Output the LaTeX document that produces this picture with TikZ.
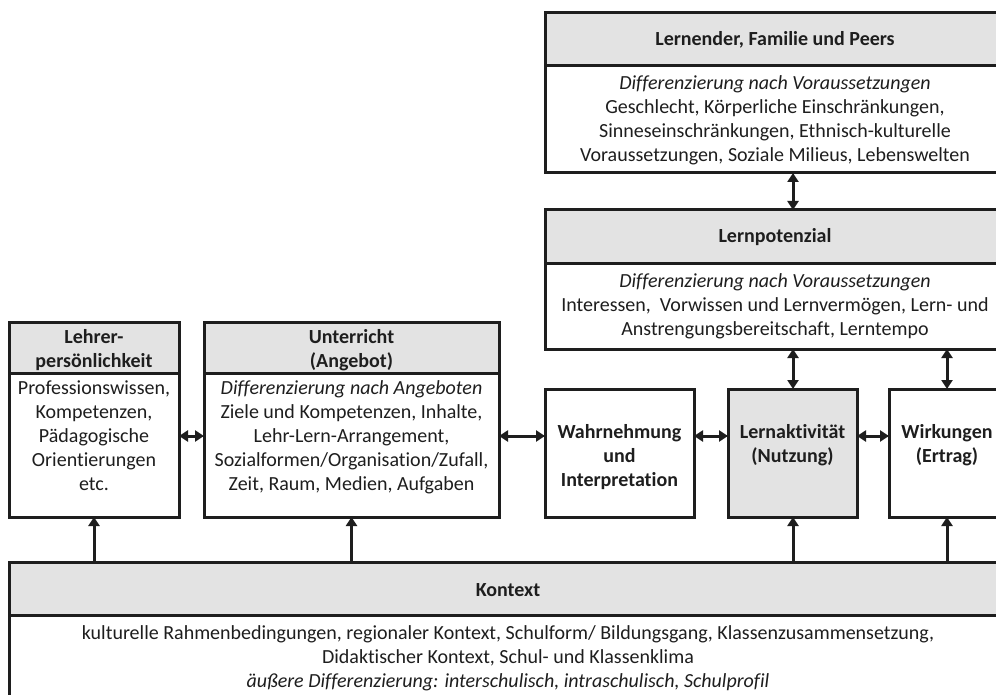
\documentclass[tikz,border=0pt]{standalone}
\usepackage{fontspec}
\setmainfont[Ligatures=NoCommon]{Carlito}
\usetikzlibrary{arrows.meta}
\definecolor{hdr}{HTML}{E3E3E3}
\definecolor{ink}{HTML}{1E1E1E}
\tikzset{
  box/.style={draw=ink, line width=3pt, rectangle, inner sep=0pt, outer sep=0pt, anchor=north west},
  hbox/.style={box, fill=hdr},
  txt/.style={text=ink, align=center, inner sep=0pt, font=\fontsize{20}{24}\selectfont},
  btxt/.style={txt, font=\fontsize{20}{24}\selectfont\bfseries},
  conn/.style={draw=ink, line width=3pt},
  both/.style={conn, {Triangle[length=9pt,width=11pt]}-{Triangle[length=9pt,width=11pt]}},
  up/.style={conn, -{Triangle[length=9pt,width=11pt]}}
}
\begin{document}
\begin{tikzpicture}[x=1pt,y=-1pt]
\useasboundingbox (0,0) rectangle (996,695);
\clip (0,0) rectangle (996,695);
\fill[white] (0,0) rectangle (996,695);
% Lernender
\node[hbox, minimum width=460pt, minimum height=53pt] (lfh) at (545,13) {};
\node[box, minimum width=460pt, minimum height=107pt] (lfb) at (545,66) {};
\node[btxt] (lft) at (775,40) {Lernender, Familie und Peers};
\node[txt] (lfx) at (775,120) {\textit{Differenzierung nach Voraussetzungen}\\Geschlecht, Körperliche Einschränkungen,\\Sinneseinschränkungen, Ethnisch-kulturelle\\Voraussetzungen, Soziale Milieus, Lebenswelten};
% Lernpotenzial
\node[hbox, minimum width=460pt, minimum height=53pt] (lph) at (545,210) {};
\node[box, minimum width=460pt, minimum height=86pt] (lpb) at (545,263) {};
\node[btxt] (lpt) at (775,237) {Lernpotenzial};
\node[txt] (lpx) at (775,306) {\textit{Differenzierung nach Voraussetzungen}\\Interessen,\ \ Vorwissen und Lernvermögen, Lern- und\\Anstrengungsbereitschaft, Lerntempo};
% Lehrer
\node[hbox, minimum width=170pt, minimum height=51pt] (leh) at (9,322) {};
\node[box, minimum width=170pt, minimum height=144pt] (leb) at (9,373) {};
\node[btxt] (let) at (94,350) {Lehrer-\\persönlichkeit};
\node[txt] (lex) at (94,436) {Professionswissen,\\Kompetenzen,\\Pädagogische\\Orientierungen\\etc.};
% Unterricht
\node[hbox, minimum width=295pt, minimum height=51pt] (uh) at (204,322) {};
\node[box, minimum width=295pt, minimum height=144pt] (ub) at (204,373) {};
\node[btxt] (ut) at (351.5,350) {Unterricht\\(Angebot)};
\node[txt] (ux) at (351.5,437) {\textit{Differenzierung nach Angeboten}\\Ziele und Kompetenzen, Inhalte,\\Lehr-Lern-Arrangement,\\Sozialformen/Organisation/Zufall,\\Zeit, Raum, Medien, Aufgaben};
% middle row
\node[box, minimum width=149pt, minimum height=128pt] (wa) at (545,389) {};
\node[btxt] (wat) at (619.5,457) {Wahrnehmung\\und\\Interpretation};
\node[hbox, minimum width=129pt, minimum height=128pt] (la) at (728,389) {};
\node[btxt] (lat) at (792.5,445) {Lernaktivität\\(Nutzung)};
\node[box, minimum width=116pt, minimum height=128pt] (wi) at (889,389) {};
\node[btxt] (wit) at (947,445) {Wirkungen\\(Ertrag)};
% Kontext
\node[hbox, minimum width=996pt, minimum height=53pt] (kh) at (9,562) {};
\node[box, minimum width=996pt, minimum height=110pt] (kb) at (9,615) {};
\node[btxt] (kt) at (508,590) {Kontext};
\node[txt] (kx) at (508,658) {kulturelle Rahmenbedingungen, regionaler Kontext, Schulform/ Bildungsgang, Klassenzusammensetzung,\\Didaktischer Kontext, Schul- und Klassenklima\\\textit{äußere Differenzierung: interschulisch, intraschulisch, Schulprofil}};
% connectors
\coordinate (c1) at (793,0);
\coordinate (c2) at (947,0);
\draw[both] (lfb.south -| c1) -- (lph.north -| c1);
\draw[both] (lpb.south -| c1) -- (la.north -| c1);
\draw[both] (lpb.south -| c2) -- (wi.north -| c2);
\draw[both] (leb.east |- lex) -- (ub.west |- lex);
\draw[both] (ub.east |- lex) -- (wa.west |- lex);
\draw[both] (wa.east |- lex) -- (la.west |- lex);
\draw[both] (la.east |- lex) -- (wi.west |- lex);
\draw[up] (kh.north -| leb.south) -- (leb.south);
\draw[up] (kh.north -| ub.south) -- (ub.south);
\draw[up] (kh.north -| c1) -- (la.south -| c1);
\draw[up] (kh.north -| c2) -- (wi.south -| c2);
\end{tikzpicture}
\end{document}
